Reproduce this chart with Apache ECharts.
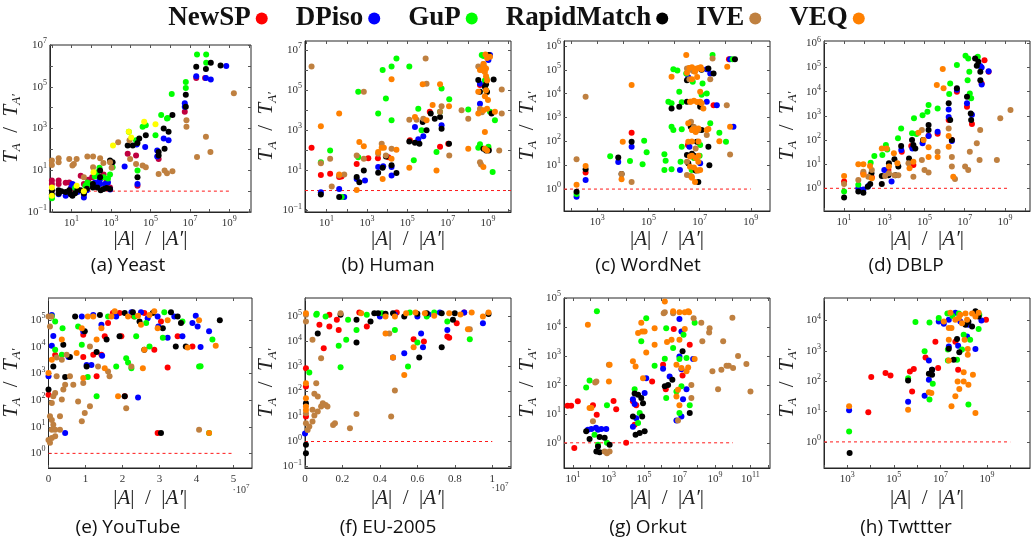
<!DOCTYPE html>
<html><head><meta charset="utf-8">
<script src="https://cdn.jsdelivr.net/npm/echarts@6/dist/echarts.min.js"></script>
<style>html,body{margin:0;padding:0;background:#fff}#c{width:1033px;height:545px}</style>
</head><body><div id="c"></div>
<script>
// ---------- legend / series ----------
const seriesNames = ['NewSP','DPiso','GuP','RapidMatch','IVE','VEQ'];
const seriesColors = ['#ff0000','#0000ff','#00ff00','#000000','#bf8040','#ff8000'];
const yeastColors  = ['#bf0040','#0000ff','#00ff00','#000000','#bf8040','#ffff00'];
const captions = ['(a) Yeast','(b) Human','(c) WordNet','(d) DBLP','(e) YouTube','(f) EU-2005','(g) Orkut','(h) Twttter'];

// ---------- tick labels (log panels: decade exponents; linear panels: multiples of 10^7) ----------
const yeastXLabels=[1,3,5,7,9], yeastYLabels=[-1,1,3,5,7];
const humanXLabels=[1,3,5,7,9], humanYLabels=[-1,1,3,5,7];
const wordnetXLabels=[3,5,7,9], wordnetYLabels=[0,1,2,3,4,5,6];
const dblpXLabels=[1,3,5,7,9], dblpYLabels=[0,1,2,3,4,5,6];
const youtubeXLabels=[0,1,2,3,4,5], youtubeYLabels=[0,1,2,3,4,5];
const euXLabels=[0,0.2,0.4,0.6,0.8,1], euYLabels=[-1,0,1,2,3,4,5];
const orkutXLabels=[1,3,5,7,9,11], orkutYLabels=[0,1,2,3,4,5];
const twitterXLabels=[3,5,7,9], twitterYLabels=[0,1,2,3,4];

// ---------- data: [ |A|/|A'| , T_A/T_A' ] ----------
const yeastNewSP=[[1,3.2],[1,2.2],[2.2,3.2],[2.2,2.2],[5,2.5],[7.6,2.6],[9,1.3],[15,1.8],[16,1.1],[29,5.5],[42,2.2],[70,3.5],[110,4.6],[250,5],[420,6.2],[600,3],[890,1.5],[7000,62],[18600,51],[22000,1.8],[2.6e5,35],[5.5e6,6300],[2.1e7,2.6e5],[5.9e7,2.6e5]];
const yeastDPiso=[[1,0.5],[1,0.6],[2.2,0.7],[5,0.6],[9.6,1.5],[11,2.2],[20,0.9],[42,0.5],[42,0.7],[60,1.1],[150,2.5],[250,3],[280,3.8],[280,2.2],[500,2.2],[700,2.6],[900,1.2],[4900,15],[20000,170],[54000,130],[2.2e5,89],[2.2e5,46],[4.7e5,330],[8.3e5,270],[5.5e6,11000],[5.5e6,16000],[2.1e7,3.2e5],[6.5e7,2.6e5],[1.15e8,2.2e5],[7e8,1e6],[22000,2.2]];
const yeastGuP=[[1,0.55],[1,0.45],[15,1.4],[50,1.8],[63,2.6],[84,2.2],[150,5],[200,8],[420,4.6],[700,4],[890,6.2],[1200,14],[260,13],[8000,690],[18600,270],[40000,1200],[58000,1450],[1.8e5,480],[3.5e5,4400],[6.9e5,3000],[7.5e5,3200],[1.2e6,45000],[6.2e6,1.7e5],[6.2e6,87000],[2.3e7,3.5e6],[6.7e7,3.5e6],[6.7e7,1.4e6],[22000,9.6]];
const yeastRapidMatch=[[1,1.1],[1,0.7],[2.2,1.1],[2.2,0.77],[3,1.0],[5,0.9],[7.6,1.1],[9,0.7],[11,0.6],[15,0.8],[20,1.2],[29,1.1],[42,0.77],[60,1.3],[120,1.5],[120,2.2],[200,1.5],[280,4.6],[280,9.6],[300,1.1],[420,1.25],[600,1.4],[890,1.25],[890,29],[1200,24],[7000,155],[12600,155],[22000,200],[27000,330],[58000,480],[22000,4.6],[2.6e5,51],[2.6e5,74],[5.2e5,107],[4.7e5,1000],[8.3e5,690],[1.3e6,4400],[6.2e6,41000],[6.2e6,11000],[2.1e7,9e5],[6.5e7,7e5],[1.15e8,1.4e6],[3.6e8,1.05e6]];
const yeastIVE=[[1,29],[1,18],[2.2,38],[2.2,24],[7.6,35],[11,17],[18,35],[13,20],[63,46],[123,46],[42,4.6],[280,38],[410,22],[123,14],[890,24],[1070,13],[2300,220],[8700,270],[9300,35],[18600,20],[40000,17],[58000,14],[2.6e5,6.6],[5.2e5,9.6],[6.9e5,7.1],[1.3e6,8.9],[6.7e6,2500],[6.7e6,1200],[2.3e7,43],[6.5e7,400],[1.1e8,74],[1.7e9,49000]];
const yeastVEQ=[[1,1.5],[1,0.6],[18,1.8],[42,1],[130,8],[1260,155],[8000,690],[10500,370],[48000,2100],[1.8e5,1600]];

const humanNewSP=[[1.8,135],[5.2,6],[15,6.8],[42,4.7],[55,5],[310,21],[1170,41],[3500,40],[11500,46],[1.35e5,320],[1.3e6,8300],[4.2e6,150],[1.07e7,215],[4e8,1.8e5],[1.05e9,120]];
const humanDPiso=[[5.2,0.83],[42,1.2],[75,0.47],[310,3.8],[800,3.2],[3600,15],[6400,16],[16600,5.6],[16600,15],[2.4e5,1480],[3.5e5,355],[6.2e5,500],[5e6,1780],[4e8,21000],[4e8,2.1e5],[1.26e9,5.6e6],[1.05e9,3.2e6]];
const humanGuP=[[5.2,26],[15,100],[56,0.47],[370,83000],[370,46],[3600,6800],[6000,1e6],[8700,38000],[16600,3200],[16600,1.5e6],[29000,3.8e6],[1.26e5,1.5e6],[2.1e5,32],[3.5e5,12000],[5.1e5,1000],[2.8e6,83],[5e6,1.2e5],[4.2e6,8300],[1.2e7,35000],[1.05e8,11000],[3.3e8,135],[4.9e8,5.6e6],[1.05e9,150],[8.5e8,3.8e5],[2.2e9,3200],[1.7e9,8.3],[1.26e9,8300],[4e8,200],[6e8,5e6],[7e8,3e5],[8e8,1e5],[9e8,5e6]];
const humanRapidMatch=[[5.2,0.63],[42,0.47],[310,4.7],[420,2.6],[700,10],[3600,7.6],[6000,13.5],[8700,50],[16600,18],[29000,7.4],[1.26e5,280],[2.4e5,240],[4e5,215],[5.8e5,2600],[9e5,1000],[1.45e6,6800],[2.3e6,3800],[4.2e6,4600],[5e6,1200],[1.17e7,215],[3.3e8,3.2e5],[4e8,83000],[5.9e8,120],[1.05e9,5.6e6],[1.5e9,6800],[1.9e9,3.4e5],[8e8,2e5],[9e8,8e4],[7e8,1.5e5],[8e8,100],[1.1e9,100]];
const humanIVE=[[1.8,1.5e6],[5.2,23],[15,38],[18,1.6],[42,5.6],[75,6.3],[310,56],[700,38],[700,83000],[3600,68],[5400,215],[8700,56],[16600,120],[1.26e5,3400],[2.9e5,3400],[6.2e5,3800],[9e5,2.1e5],[4.2e6,8300],[5e6,16000],[1.2e7,56],[8.1e5,3.8e6],[4.9e7,10000],[1.05e8,3800],[3.3e8,1.5e6],[4e8,8300],[4e8,26],[4.8e9,1.07e5],[4.8e9,6800],[3.6e9,100],[6e8,2e6],[5e8,1e6],[4e8,1.2e4],[5e8,8000],[4.5e8,20],[7e8,1.3e6]];
const humanVEQ=[[5.2,1600],[42,6800],[42,6.3],[310,1.07],[420,260],[700,160],[3600,83],[5400,135],[6900,135],[6000,3.8],[16600,3.5e5],[16600,38],[29000,107],[1.26e5,13.5],[2.4e5,4600],[5.8e5,2e5],[9e5,3200],[1.8e6,18000],[2.8e6,10],[4.2e6,2e5],[1.17e7,16000],[1.05e8,120],[3.3e8,83000],[3.3e8,6800],[4e8,1e6],[5.9e8,1.6e6],[7e8,830],[7e8,120],[1e9,32000],[1.26e9,4.6e6],[2.2e9,8300],[5.9e8,15],[8e8,1.2e6],[6.5e8,9e5],[6e8,2e6],[7e8,8e5],[8e8,5e5],[9e8,3e5],[7.5e8,6e6],[9e8,4e6],[8e8,1e5],[7e8,5e4],[6e8,1e4],[9e8,1.2e4],[9e8,100]];

const wordnetNewSP=[[350,4.9],[22000,230],[3.5e6,70],[3.5e7,3300],[1.4e8,2.8e5]];
const wordnetDPiso=[[155,0.48],[350,2.4],[6600,13.5],[22000,60],[3.6e6,49000],[1.9e7,1.05e5],[1.9e7,4600],[4.7e7,3300],[2.6e7,71000],[1.7e6,6.3],[1.05e7,12],[2.1e8,415],[1.55e8,2.8e5],[4e6,60]];
const wordnetGuP=[[155,0.62],[3200,24],[19000,15],[68000,107],[59000,11],[85000,35],[4.2e5,29],[4.7e5,15.5],[4.2e5,6.3],[6e5,4600],[8e5,4000],[8e5,415],[9.4e5,300],[8e5,6.7],[9.4e5,1.05e5],[1.35e6,93000],[1.6e6,12000],[2e6,4400],[2e6,320],[2e6,60],[1.8e6,14],[3e6,71000],[5.4e6,32000],[1.3e7,27000],[1.9e7,10200],[2.6e7,570],[3.2e7,4.2e5],[5.9e7,230],[1.07e8,97],[1.95e8,2.8e5],[1.05e7,70],[4.9e6,6.3],[6e6,20],[1e7,25],[1.2e7,9000]];
const wordnetRapidMatch=[[155,0.78],[350,6.7],[6600,21],[8900,4.3],[22000,97],[8e5,2400],[1.6e6,2800],[3.2e6,37000],[3.2e6,4600],[3.2e6,27],[3.6e6,12],[4.5e6,415],[5.4e6,415],[7.8e6,97],[8.9e6,2],[1.2e7,300],[1.2e7,1e5],[2.2e7,1.15e5],[3.5e7,71000],[2.2e7,60],[2.4e7,10],[2.4e8,2.8e5],[1.05e7,2800],[5e6,30],[6e6,25],[7e6,6],[9e6,300],[1e7,4000]];
const wordnetIVE=[[155,18],[350,7400],[8900,4.3],[22000,2],[3.2e6,1.15e5],[4.9e6,1e5],[5.6e6,9e4],[2.6e7,40000],[3.2e7,3e5],[1.15e8,3300],[1.55e8,28],[3.2e6,14],[3.2e6,3.9],[4.6e6,670],[8.9e6,300],[1.9e7,185],[5.2e6,300],[4e6,1.2e5],[8e6,1.1e5],[4e6,40000],[6e6,400],[7e6,50],[9e6,6],[4.5e6,3.5]];
const wordnetVEQ=[[155,1.5],[350,9.3],[8900,2.6],[9900,97],[22000,23000],[8e5,51000],[3e6,4.2e5],[3.2e6,76000],[4.2e6,4600],[4.5e6,4600],[3.6e6,570],[3.6e6,97],[4.2e6,23],[4.2e6,8.7],[4.9e6,3.3],[6.6e6,2],[6.2e6,330],[8.9e6,14],[1.05e7,6.3],[1.2e7,1.05e5],[1.05e7,4600],[1.4e7,2400],[1.9e7,300],[2.2e7,330],[5.9e7,102],[1.2e8,1.35e5],[1.55e8,415],[1.05e7,12000],[6.6e6,83000],[4e6,1.2e5],[5e6,1.3e5],[7e6,1.1e5],[9e6,1.2e5],[1.1e7,1.3e5],[5e6,40000],[8e6,50000],[6e6,5000],[8e6,4500],[1.2e7,4000],[5e6,300],[7e6,250],[9e6,350],[5e6,100],[9e6,100],[5e6,25],[7e6,20],[9e6,25],[6e6,8],[8e6,6],[5e6,3]];

const dblpNewSP=[[10,1.9],[91,4.2],[240,2.9],[1600,5.7],[7400,33],[22000,56],[28000,9.3],[1.6e5,150],[4.5e5,180],[1.6e6,670],[2.3e6,100],[4.1e6,10000],[1.3e7,2400],[2.3e7,460],[7e7,22000],[9.7e7,2e5],[1.55e8,67000]];
const dblpDPiso=[[51,1],[91,0.9],[160,1.25],[1000,5.7],[2300,1.9],[7000,39],[25000,45],[8e4,73],[1.6e5,148],[4.5e5,220],[1.6e6,1850],[1.6e6,900],[2.3e6,90],[4.1e6,12000],[1.3e7,3300],[2.3e7,1100],[6e7,1.15e5],[7e7,1e5],[7e7,20000],[1.55e8,70000]];
const dblpGuP=[[10,0.73],[51,1.4],[210,11.5],[320,22],[800,24],[1200,62],[1400,40],[6900,300],[4800,118],[24000,190],[30000,790],[40000,178],[8e4,1070],[1.4e5,1480],[1.6e5,2800],[4.5e5,2000],[1.7e6,8000],[1.9e6,22000],[4.1e6,1.27e5],[1.1e7,3.1e5],[1.5e7,2.4e5],[1.4e7,30000],[1.8e7,8500],[2.1e7,5300],[1.7e7,67000],[4.5e7,2.8e5]];
const dblpRapidMatch=[[10,0.42],[51,0.73],[91,0.66],[150,1.17],[200,1.5],[230,4.2],[750,1.5],[750,3.2],[1600,3.5],[1700,10.8],[3200,16],[3600,3.5],[5000,8],[6900,56],[17000,17],[24000,100],[28000,62],[35000,45],[8.5e4,100],[1.6e5,420],[1.6e5,260],[1.6e6,3300],[1.9e6,670],[2.3e6,100],[4.1e6,13800],[1.3e7,6200],[2e7,1260],[2.1e7,670],[3.3e7,2.4e5],[4.8e7,1.74e5],[4e7,1.2e5],[6e7,67000],[6e7,30000]];
const dblpIVE=[[10,1.5],[51,2.2],[91,4.9],[160,3],[240,5.7],[1100,3.2],[1700,4.2],[5000,3.5],[3200,3.5],[16000,10.8],[28000,3],[74000,15],[74000,260],[1e5,5.7],[1.6e5,4.5],[4.5e5,33],[1.6e6,300],[2.3e6,8],[2.3e6,20],[3.3e6,2.4],[1.05e7,8],[1.5e7,5.7],[1.8e7,33],[4e7,73],[5.9e7,260],[5.5e7,15],[5.9e8,790],[1.9e9,1740],[4e8,15]];
const dblpVEQ=[[10,3.2],[51,10],[91,10],[91,3.6],[195,8.4],[240,2.6],[750,45],[1300,45],[1700,8],[3000,28],[4500,10.8],[18000,6.7],[28000,12.6],[50000,200],[9e4,100],[1.6e5,50],[1.6e5,20],[4.1e5,19000],[4.5e5,20],[8.1e5,87000],[8.9e5,13800],[1.6e6,148],[1.6e6,53],[2.7e6,3]];

const youtubeNewSP=[[0,160],[1.8e6,5000],[9.4e6,4200],[1.21e7,5100],[1.3e7,790],[1.43e7,5100],[1.61e7,79000],[1.74e7,1.9e5],[1.92e7,1.9e5],[1.97e7,25000],[2.31e7,1.4e5],[2.59e7,1.9e5],[2.86e7,7900],[3.04e7,91000],[3.22e7,1700],[3.49e7,25000],[3.89e7,10500],[2.06e7,140],[2.95e7,5.8],[1.52e7,25000],[9.4e6,29000]];
const youtubeDPiso=[[9e5,1.6e5],[1.3e6,26000],[9e5,11000],[0,790],[5.4e6,4200],[9e6,1.4e5],[1.21e7,1.6e5],[1.43e7,69000],[1.16e7,2100],[1.83e7,1.4e5],[2.24e7,2e5],[2.5e7,2e5],[2.68e7,1.2e5],[2.95e7,1.4e5],[2.97e7,59000],[3.22e7,22000],[3.4e7,1.4e5],[3.62e7,25000],[3.89e7,79000],[3.98e7,1.5e5],[4.03e7,59000],[4.11e7,10000],[4.34e7,39000],[2.42e7,127],[4.5e6,5.8],[1.03e7,2100],[9.4e6,39000],[1.45e7,4700]];
const youtubeGuP=[[1.8e6,91000],[9e5,1.4e5],[1.8e6,7900],[3.6e6,5100],[3.8e6,51000],[8e6,59000],[9e6,12000],[1.06e7,740],[1.3e7,140],[1.61e7,1.4e5],[1.83e7,1860],[2.1e7,3800],[2.15e7,2600],[2.24e7,1600],[2.33e7,1.4e5],[2.37e7,25000],[2.64e7,79000],[2.73e7,10500],[3.09e7,22000],[3.13e7,2e5],[3.62e7,91000],[4.07e7,1860],[4.11e7,1900],[4.43e7,19000],[4.34e7,5.8]];
const youtubeRapidMatch=[[0,250],[1.3e6,1860],[4e6,12000],[4.5e6,740],[5.8e6,4200],[7.2e6,1.4e5],[9.8e6,39000],[1.03e7,1860],[1.3e7,6500],[1.39e7,1.6e5],[1.57e7,19000],[1.92e7,25000],[2.06e7,1.9e5],[2.06e7,140],[2.28e7,2e5],[2.46e7,91000],[2.59e7,7900],[2.82e7,1.9e5],[3.09e7,51000],[3.31e7,2e5],[3.49e7,1.4e5],[3.58e7,79000],[3.71e7,10500],[3.44e7,10500],[3.04e7,5.8],[4.63e7,1e5]];
const youtubeIVE=[[0,3.2],[4e5,2.5],[9e5,3.8],[1.8e6,4.4],[9e5,7.8],[1.8e6,7.8],[4e5,25],[9e5,18],[1.3e6,12],[9e5,78],[1.3e6,140],[1.8e6,185],[3.1e6,25],[3.1e6,7.8],[3.6e6,105],[4e6,250],[2.2e6,790],[4.5e6,380],[5.8e6,790],[3.6e6,3300],[4e5,59000],[0,1.4e5],[8e5,1.4e5],[4.9e6,5100],[6.7e6,380],[8e6,90],[9e6,16],[9.8e6,33],[1.12e7,59],[9.4e6,440],[1.34e7,1860],[1.61e7,1200],[1.65e7,790],[2.1e7,50],[1.12e7,10500],[2.24e7,1860],[4.07e7,7.8],[2.2e6,4000]];
const youtubeVEQ=[[0,1050],[9e5,3300],[7.6e6,5900],[9.4e6,680],[9e6,51000],[1.06e7,1.4e5],[1.21e7,1.4e5],[1.3e7,19000],[1.43e7,51000],[1.52e7,1600],[1.7e7,1.4e5],[1.79e7,2.2e5],[2.15e7,1.4e5],[2.42e7,1.5e5],[2.5e7,69000],[2.73e7,1.6e5],[2.86e7,2.2e5],[2.59e7,7900],[1.88e7,140],[2.55e7,1600],[2.95e7,51000],[3.22e7,1e5],[3.76e7,9600],[4.07e7,1e5],[4.52e7,11000],[4.34e7,5.8],[3.6e6,19000]];

const euNewSP=[[5e4,850],[5e4,160],[5e4,10],[7.7e5,47000],[1e6,5400],[1.3e6,1.17e5],[1.3e6,40000],[1.7e6,74000],[1.8e6,29000],[2.9e6,1.45e5],[3.3e6,40000],[4.9e6,1.45e5],[5.8e6,12300],[6.35e6,10000],[7.6e6,16000],[7.7e6,14000],[8.1e6,54000],[8.5e6,1.45e5]];
const euDPiso=[[0,2.1],[4.8e6,1.17e5],[5.3e6,3400],[4.7e6,2300],[6.2e6,21000],[6.3e6,5900],[7.2e6,1.45e5],[7.6e6,29000],[8.5e6,1.45e5],[9.5e6,54000],[6e6,1e5],[4e6,1e5],[6.6e6,1.2e5]];
const euGuP=[[2.3e5,575],[6e5,1.17e5],[1.1e6,1e5],[2.3e6,74000],[2.75e6,29000],[2.2e6,11700],[1.8e6,6700],[1.9e6,940],[4.1e6,1.35e5],[4.8e6,29000],[5.5e6,1000],[6e6,9100],[6.5e6,1e5],[6.9e6,1.45e5],[7.6e6,63000],[8.8e6,12300],[5.6e6,1.45e5],[3.3e6,1.17e5],[6.3e5,1.3e5]];
const euRapidMatch=[[5e4,0.34],[5e4,0.74],[5e4,34],[6.8e5,21000],[1.9e6,1.17e5],[2.75e6,74000],[2.75e6,9100],[3.5e6,63000],[3.7e6,1.35e5],[4.3e6,1.3e5],[4.7e6,1.35e5],[5.3e6,1e5],[6e6,1.3e5],[6.1e6,2300],[6.5e6,1.35e5],[7.3e6,1.35e5],[7.3e6,5900],[7.9e6,74000],[8e6,1.35e5],[9.8e6,1.27e5],[3.9e6,1.35e5]];
const euIVE=[[5e4,1.17e5],[5e4,63000],[5e4,13.5],[5e4,5.4],[1.4e5,2.9],[2.3e5,4],[4e5,18.5],[4e5,6.3],[5e5,81],[6e5,215],[6.8e5,63],[6.8e5,16],[8.6e5,25],[9.5e5,34],[1.1e6,29],[1.2e6,25],[4e5,11700],[8.6e5,2150],[1.5e6,4.6],[1.6e6,5.4],[2.4e6,3.4],[2.75e6,12.6],[4.5e6,21000],[4.7e6,2300],[4.8e6,110],[4.6e6,10],[8.8e6,31000],[1.9e6,1.35e5],[5e5,11]];
const euVEQ=[[5e4,215],[5e4,54],[5e4,25],[5e4,18],[5e4,1.35e5],[3e6,1.35e5],[4.3e6,1e5],[4.8e6,1e5],[4.3e6,21000],[4.7e6,2300],[5.3e6,460],[5.8e6,5900],[5.9e6,1.45e5],[6.9e6,1.07e5],[7.7e6,1.35e5],[8.7e6,31000],[8.9e6,1.45e5],[9.5e6,1e5],[9.8e6,1.45e5],[5.4e6,1.35e5],[6.4e6,1.35e5],[8.3e6,1.2e5]];

const orkutNewSP=[[8,19],[5,19],[19,27],[12,0.66],[135,20],[220,9.3],[1950,28],[2750,14.5],[1e4,1],[24000,27],[30000,4.2],[37000,20],[2.9e5,132],[1.2e6,500],[1.7e6,71],[4.8e6,8500],[1.5e7,210],[3.8e7,2450]];
const orkutDPiso=[[70,2.8],[110,3],[200,3.3],[260,2.8],[400,3],[760,3],[24000,3.6],[37000,7.1],[24000,32],[30000,22],[1.1e5,52],[1.35e5,170],[1.2e6,360],[2.8e6,195],[1e7,19000],[1.3e7,7000],[1e7,960],[1.3e7,350],[2.5e7,71],[6.8e6,5.9],[1.3e7,8.1],[1.6e7,32],[5.9e7,780]];
const orkutGuP=[[56,81],[87,142],[165,1.9],[260,0.85],[830,1],[225,35000],[830,20],[30000,71],[47000,4.8],[71000,3200],[1.35e5,20000],[58000,10.6],[4e5,460],[1.5e6,800],[1.8e6,9100],[1.8e6,35],[4.4e6,1860],[1e7,780],[1.3e7,89],[1e7,10.6],[1.7e7,5400],[2.5e7,850],[3.8e7,20],[7.2e7,14000],[6.8e6,59]];
const orkutRapidMatch=[[56,2.5],[87,1.35],[210,0.5],[320,0.47],[320,1.6],[615,1.5],[1170,0.85],[260,0.74],[24000,8.1],[34000,1.9],[58000,2.2],[1.1e5,2.5],[47000,46],[71000,35],[89000,23],[80000,8.1],[1.5e6,89],[2.3e6,100],[4e6,150],[1.5e7,1450],[3.8e7,10.6],[30000,50]];
const orkutIVE=[[135,5.5],[615,0.5],[830,0.44],[1170,0.5],[1070,500],[210,132],[180,120],[1.5e6,32000],[4.4e6,30000],[8.3e6,5.9],[4.7e7,35],[4.7e7,100],[6.3e7,20000],[1.7e8,14000],[1.95e8,3200],[4.7e8,6500],[5e8,9100],[7.2e8,295],[1.5e9,71],[2.3e9,330],[2.9e9,3200],[4.5e9,460],[6e9,460],[1.05e10,380],[9.6e9,21000],[2e10,1000],[5.9e10,525],[1e11,59],[1.3e6,30000]];
const orkutVEQ=[[70,12000],[87,16],[110,16],[1170,500],[1070,132],[24000,650],[34000,435],[47000,6200],[71000,14000],[80000,7000],[1.1e5,7000],[1.35e5,1320],[89000,170],[4e5,9100],[4e5,2450],[1.5e6,76000],[4.4e6,35000],[3.6e6,3600],[1e7,3600],[1e7,32000],[2e7,32000],[3.1e7,35000],[3.5e7,32000],[2e7,8500],[6.8e6,500],[1.3e7,380],[2.5e7,295],[3.1e7,400],[7.2e7,780],[8.3e6,68],[6.8e6,40],[1e7,20],[2e6,3000]];

const twitterNewSP=[[10700,137],[8000,9.5],[44000,185],[72000,155],[4.9e5,210],[7.2e5,250],[6.1e5,46],[2.3e6,600],[6.1e6,2000],[8e6,270],[4.4e7,2000],[5.8e7,240],[9.1e8,10500]];
const twitterDPiso=[[1200,11],[4.1e5,21],[2.1e6,33],[3.2e6,480],[3.2e6,112],[4.4e6,240],[2.3e7,1400],[5.8e7,1480],[8.5e6,9300],[1.4e7,7800],[2.3e7,10500],[7.2e7,9300],[1.6e8,7200],[1.4e8,2950],[3.2e8,1150],[5.8e8,10000],[4.4e7,18000]];
const twitterGuP=[[1200,2.2],[4.1e5,126],[8.5e5,8900],[2.1e6,960],[3.4e6,8500],[3.4e6,25],[4.7e6,83],[8.5e6,12000],[2.1e7,1100],[2.1e7,480],[2e7,17000],[5.2e7,510],[6.2e7,17000],[1.6e8,17],[1.9e8,2300],[1e8,3400],[4.4e8,5200],[4.7e8,15500],[8.5e7,1100],[3.3e7,14000]];
const twitterRapidMatch=[[1260,0.43],[4.1e5,105],[3.2e6,177],[4.4e6,163],[4.4e6,240],[5.2e7,2450],[6.5e7,890],[3.7e7,510],[2.3e7,1170],[3.2e8,20000],[4.4e8,13500],[1.2e8,7200],[2.3e8,6300],[1.6e8,9000]];
const twitterVEQ=[[1200,15],[4.1e5,11.5],[3.2e6,43],[4.1e6,41],[1.4e7,9300],[2.3e7,5600],[2.7e7,18000],[4.4e7,10500],[3e7,5600],[6.2e7,12000],[7.2e7,15500],[8.5e7,8100],[1.2e8,17000],[1.4e8,10500],[2.3e8,17000],[3.2e8,13500],[4.4e8,18000],[2.3e7,2300],[2.3e7,480],[3e7,15],[5.5e7,98],[6.5e7,55],[1e8,98],[1e8,195],[1.1e8,2300],[1.5e8,1150],[2.5e8,163],[3.2e8,9],[1.5e8,740],[4.4e7,32],[1.6e8,76]];

// reference line T_A/T_A' = 1, spanning these |A|/|A'| ranges
const refLineY = 1;
const refSpans = [[1,1e9],[0.85,1.38e10],[50,1e9],[1,1.3e9],[0,5e7],[0,1e7],[3.2,1e10],[100,1e10]];

// ---------- panel layout ----------
const panels = [
  {grid:{left:45,top:45,width:206,height:167}, xLog:true, xMin:-0.1, xMax:10.1, xTicks:[0,10], xLab:yeastXLabels, yMin:-1, yMax:7, yLab:yeastYLabels, sets:[yeastNewSP,yeastDPiso,yeastGuP,yeastRapidMatch,yeastIVE,yeastVEQ], colors:yeastColors, cap:[128,266], gapX:15},
  {grid:{left:305,top:41,width:206,height:171}, xLog:true, xMin:-0.07, xMax:10.14, xTicks:[0,10], xLab:humanXLabels, yMin:-1.07, yMax:7.45, yLab:humanYLabels, sets:[humanNewSP,humanDPiso,humanGuP,humanRapidMatch,humanIVE,humanVEQ], cap:[388,266], gapX:15},
  {grid:{left:564,top:41,width:206,height:170}, xLog:true, xMin:1.7, xMax:9.75, xTicks:[2,9], xLab:wordnetXLabels, yMin:-0.92, yMax:6.21, yLab:wordnetYLabels, sets:[wordnetNewSP,wordnetDPiso,wordnetGuP,wordnetRapidMatch,wordnetIVE,wordnetVEQ], cap:[648,266], gapX:16},
  {grid:{left:824,top:41,width:206,height:170}, xLog:true, xMin:0, xMax:10.25, xTicks:[0,10], xLab:dblpXLabels, yMin:-0.94, yMax:6.1, yLab:dblpYLabels, sets:[dblpNewSP,dblpDPiso,dblpGuP,dblpRapidMatch,dblpIVE,dblpVEQ], cap:[906,266], gapX:16},
  {grid:{left:46,top:298,width:206,height:170}, xLog:false, xMin:0, xMax:5.5e7, xLab:youtubeXLabels, yMin:-0.55, yMax:5.84, yLab:youtubeYLabels, sets:[youtubeNewSP,youtubeDPiso,youtubeGuP,youtubeRapidMatch,youtubeIVE,youtubeVEQ], cap:[128,528], gapX:18, exp:[241,490]},
  {grid:{left:305,top:298,width:206,height:170}, xLog:false, xMin:0, xMax:1.1e7, xLab:euXLabels, yMin:-1.06, yMax:5.74, yLab:euYLabels, sets:[euNewSP,euDPiso,euGuP,euRapidMatch,euIVE,euVEQ], cap:[388,528], gapX:18, exp:[500,488]},
  {grid:{left:564,top:298,width:206,height:170}, xLog:true, xMin:0.5, xMax:12.1, xTicks:[1,12], xLab:orkutXLabels, yMin:-0.87, yMax:5, yLab:orkutYLabels, sets:[orkutNewSP,orkutDPiso,orkutGuP,orkutRapidMatch,orkutIVE,orkutVEQ], cap:[648,528], gapX:18},
  {grid:{left:824,top:298,width:206,height:170}, xLog:true, xMin:2, xMax:10.85, xTicks:[2,10], xLab:twitterXLabels, yMin:-0.86, yMax:4.74, yLab:twitterYLabels, sets:[twitterNewSP,twitterDPiso,twitterGuP,twitterRapidMatch,null,twitterVEQ], cap:[906,528], gapX:18}
];

// ---------- build ----------
const SERIF = 'Liberation Serif';
const TXT = '#333';
const supRich = {
  b:{fontFamily:SERIF,fontSize:11,lineHeight:16,color:TXT},
  s:{fontFamily:SERIF,fontSize:8,lineHeight:9,verticalAlign:'top',color:TXT}
};
function expStr(e){ e=Math.round(e); return e<0 ? '\u2212'+(-e) : String(e); }
function range(a,b){ const r=[]; for(let i=a;i<=b;i++) r.push(i); return r; }
const yNameText = '{i|T}{u|A}{n|  /  }{i|T}{u|A\u2032}';
const xNameText = '{n||}{i|A}{n||}{n|  /  }{n||}{i|A\u2032}{n||}';
const nameRich = {
  i:{fontFamily:SERIF,fontStyle:'italic',fontSize:21,lineHeight:24,color:'#222'},
  u:{fontFamily:SERIF,fontStyle:'italic',fontSize:13,lineHeight:15,verticalAlign:'bottom',color:'#222'},
  n:{fontFamily:SERIF,fontSize:21,lineHeight:24,color:'#222'}
};
const REF_RED = '#ff1a1a';

const grids=[], xAxes=[], yAxes=[], series=[], graphics=[];
panels.forEach((p,i)=>{
  grids.push(Object.assign({show:true,borderColor:'#262626',borderWidth:1,backgroundColor:'transparent'},p.grid));
  const tx = p.xLog ? (v=>Math.log10(v)) : (v=>v);
  const xTickVals = p.xLog ? range(p.xTicks[0],p.xTicks[1]) : p.xLab.map(v=>v*1e7);
  const xLabVals  = p.xLog ? p.xLab : p.xLab.map(v=>v*1e7);
  const yTickVals = range(Math.ceil(p.yMin),Math.floor(p.yMax));
  const tickStyle = {show:true,inside:true,length:3,lineStyle:{color:'#555'}};
  xAxes.push({
    type:'value', gridIndex:i, position:'bottom', min:p.xMin, max:p.xMax,
    splitLine:{show:false},
    axisLine:{show:true,onZero:false,lineStyle:{color:'#262626',width:1}},
    axisTick:Object.assign({customValues:xTickVals},tickStyle),
    axisLabel:{customValues:xLabVals,margin:3,rich:supRich,fontFamily:SERIF,fontSize:11,color:TXT,
      formatter: p.xLog ? (v=>'{b|10}{s|'+expStr(v)+'}') : (v=>'{b|'+String(Math.round(v/1e6)/10)+'}')},
    name:xNameText, nameLocation:'middle', nameGap:p.gapX, nameTextStyle:{rich:nameRich}
  });
  yAxes.push({
    type:'value', gridIndex:i, position:'left', min:p.yMin, max:p.yMax,
    splitLine:{show:false},
    axisLine:{show:true,onZero:false,lineStyle:{color:'#262626',width:1}},
    axisTick:Object.assign({customValues:yTickVals},tickStyle),
    axisLabel:{customValues:p.yLab,margin:3,rich:supRich,fontFamily:SERIF,fontSize:11,color:TXT,
      formatter:v=>'{b|10}{s|'+expStr(v)+'}'},
    name:yNameText, nameLocation:'middle', nameGap:25, nameTextStyle:{rich:nameRich}
  });
  const span = refSpans[i];
  series.push({type:'line', xAxisIndex:i, yAxisIndex:i,
    data:[[tx(span[0]),Math.log10(refLineY)],[tx(span[1]),Math.log10(refLineY)]],
    symbol:'none', silent:true, color:REF_RED, itemStyle:{color:REF_RED},
    lineStyle:{color:REF_RED,width:1,type:[3,3],opacity:1}, z:1});
  const cols = p.colors || seriesColors;
  p.sets.forEach((arr,k)=>{
    if(!arr) return;
    series.push({type:'scatter', name:seriesNames[k], xAxisIndex:i, yAxisIndex:i,
      data:arr.map(d=>[tx(d[0]),Math.log10(d[1])]), symbolSize:6,
      itemStyle:{color:cols[k],opacity:1}, z:2});
  });
  graphics.push({type:'text', style:{text:captions[i], x:p.cap[0], y:p.cap[1], textAlign:'center', textVerticalAlign:'middle',
    font:'19px "Open Sans"', fill:'#111'}});
  if(p.exp){
    graphics.push({type:'text', style:{text:'{a|\u00b710}{s|7}', x:p.exp[0], y:p.exp[1], textAlign:'center', textVerticalAlign:'middle',
      rich:{a:{fontFamily:SERIF,fontSize:10,lineHeight:14,fill:TXT},s:{fontFamily:SERIF,fontSize:7,lineHeight:8,verticalAlign:'top',fill:TXT}}}});
  }
});
// mirrored tick marks on top / right edges (no labels)
panels.forEach((p,i)=>{
  const xTickVals = p.xLog ? range(p.xTicks[0],p.xTicks[1]) : p.xLab.map(v=>v*1e7);
  const yTickVals = range(Math.ceil(p.yMin),Math.floor(p.yMax));
  const tickStyle = {show:true,inside:true,length:3,lineStyle:{color:'#555'}};
  xAxes.push({type:'value', gridIndex:i, position:'top', min:p.xMin, max:p.xMax, splitLine:{show:false},
    axisLine:{show:false,onZero:false}, axisLabel:{show:false}, axisTick:Object.assign({customValues:xTickVals},tickStyle)});
  yAxes.push({type:'value', gridIndex:i, position:'right', min:p.yMin, max:p.yMax, splitLine:{show:false},
    axisLine:{show:false,onZero:false}, axisLabel:{show:false}, axisTick:Object.assign({customValues:yTickVals},tickStyle)});
});

const chart = echarts.init(document.getElementById('c'), null, {renderer:'canvas'});
chart.setOption({
  animation:false,
  backgroundColor:'#fff',
  legend:{
    data:seriesNames.map((n,k)=>({name:n,itemStyle:{color:seriesColors[k]}})),
    top:0, left:'center', align:'right', itemGap:28, itemWidth:12, itemHeight:12, icon:'circle', selectedMode:false,
    textStyle:{fontFamily:SERIF,fontWeight:'bold',fontSize:27,color:'#111'}
  },
  grid:grids, xAxis:xAxes, yAxis:yAxes, series:series, graphic:graphics
});
</script></body></html>
